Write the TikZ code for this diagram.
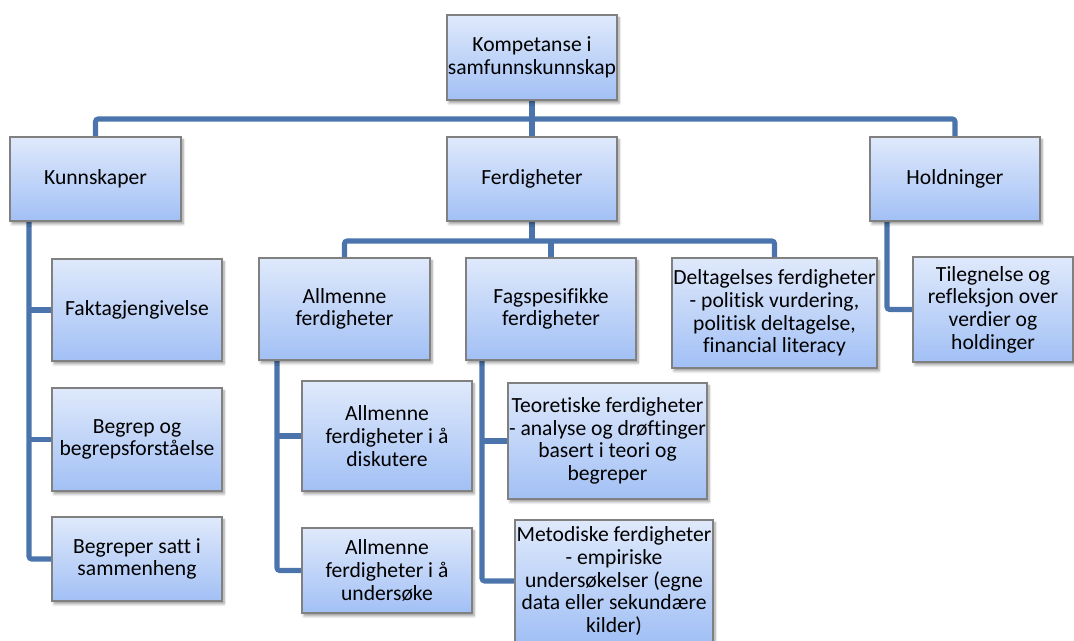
\documentclass[tikz,border=0pt]{standalone}
\usepackage{fontspec}
\setmainfont{Carlito}[Ligatures=NoCommon]
\usetikzlibrary{shadows.blur}
\definecolor{boxtop}{HTML}{DFE9FB}
\definecolor{boxbot}{HTML}{A2C0F5}
\definecolor{conncol}{HTML}{4A74AB}
\definecolor{boxline}{HTML}{808080}
\pgfdeclarelayer{bg}
\pgfsetlayers{bg,main}
\tikzset{
 box/.style={draw=boxline, line width=0.8pt, top color=boxtop, bottom color=boxbot,
   align=center, inner sep=0pt, font=\fontsize{16.2}{17}\selectfont,
   blur shadow={shadow xshift=1.5pt, shadow yshift=-2.2pt, shadow blur steps=6, shadow opacity=40}},
 conn/.style={draw=conncol, line width=3.8pt, rounded corners=2pt},
}
\newcommand\boxnode[6]{\node[box, minimum width={(#4-#2)*0.75pt}, minimum height={(#5-#3)*0.75pt}] (#1) at ({(#2+#4)/2},{(#3+#5)/2}) {#6};}
\begin{document}
\begin{tikzpicture}[x=0.75pt,y=-0.75pt]
\useasboundingbox (0,0) rectangle (1074,641);
\boxnode{top}{447}{15}{617}{100}{Kompetanse i\\samfunnskunnskap}
\boxnode{k}{10}{137}{181}{221}{Kunnskaper}
\boxnode{f}{447}{137}{617}{221}{Ferdigheter}
\boxnode{h}{870}{137}{1040}{221}{Holdninger}
\boxnode{k1}{52}{259}{222}{361}{Faktagjengivelse}
\boxnode{k2}{52}{388}{222}{491}{Begrep og\\begrepsforståelse}
\boxnode{k3}{52}{517}{222}{601}{Begreper satt i\\sammenheng}
\boxnode{fa}{259}{258}{430}{360}{Allmenne\\ferdigheter}
\boxnode{fs}{466}{258}{636}{360}{Fagspesifikke\\ferdigheter}
\boxnode{fd}{672}{258}{877}{368}{Deltagelses ferdigheter\\- politisk vurdering,\\politisk deltagelse,\\financial literacy}
\boxnode{ht}{913}{257}{1073}{362}{Tilegnelse og\\refleksjon over\\verdier og\\holdinger}
\boxnode{a1}{302}{381}{472}{491}{Allmenne\\ferdigheter i å\\diskutere}
\boxnode{a2}{302}{528}{472}{613}{Allmenne\\ferdigheter i å\\undersøke}
\boxnode{t1}{508}{383}{707}{499}{Teoretiske ferdigheter\\- analyse og drøftinger\\basert i teori og\\begreper}
\boxnode{t2}{515}{520}{713}{642}{Metodiske ferdigheter\\- empiriske\\undersøkelser (egne\\data eller sekundære\\kilder)}
\coordinate (bus) at (0,119);
\coordinate (fbus) at (0,241);
\coordinate (kx) at (29,0);
\coordinate (ax) at (277,0);
\coordinate (fx) at (482,0);
\coordinate (hx) at (887,0);
\begin{pgfonlayer}{bg}
\draw[conn] (k.north) |- (h.north |- bus) -- (h.north);
\draw[conn] (top.south) -- (top.south |- bus);
\draw[conn] (f.north) -- (f.north |- bus);
\draw[conn] (f.south) -- (f.south |- fbus);
\draw[conn] (fa.north) |- (fd.north |- fbus) -- (fd.north);
\draw[conn] (fs.north) -- (fs.north |- fbus);
\draw[conn] (k.south -| kx) |- (k3.west);
\draw[conn] (k1.west) -- (k1.west -| kx);
\draw[conn] (k2.west) -- (k2.west -| kx);
\draw[conn] (fa.south -| ax) |- (a2.west);
\draw[conn] (a1.west) -- (a1.west -| ax);
\draw[conn] (fs.south -| fx) |- (t2.west);
\draw[conn] (t1.west) -- (t1.west -| fx);
\draw[conn] (h.south -| hx) |- (ht.west);
\end{pgfonlayer}
\end{tikzpicture}
\end{document}
